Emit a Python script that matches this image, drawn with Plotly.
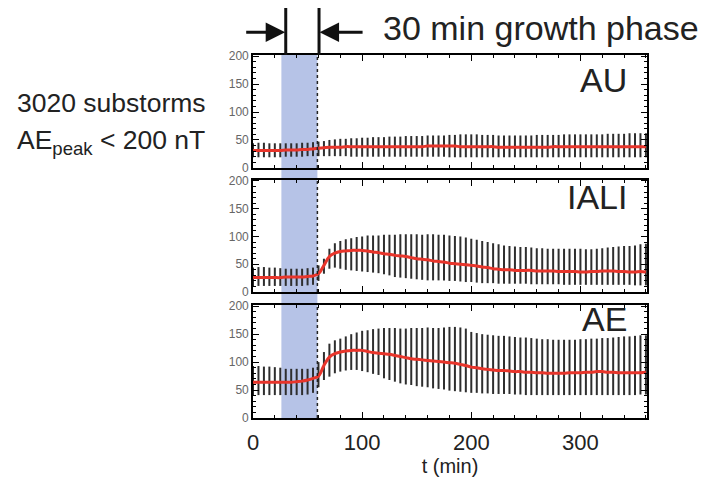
import plotly.graph_objects as go

t = list(range(0, 361, 5))

au_mean = [31,31,31,31,31,31,32,32,32,33,33,34,
           35,36,37,37,37,38,38,38,38,38,38,38,
           38,38,38,38,38,38,38,38,39,39,39,39,
           39,39,38,38,38,38,38,38,38,37,37,37,
           37,37,37,37,37,37,37,38,38,38,38,38,
           38,38,38,38,38,38,38,38,38,38,38,38,
           38]
au_hi = [44,45,45,44,44,44,44,44,44,45,45,46,
         47,48,50,51,52,52,53,53,54,54,55,55,
         55,56,56,56,57,57,57,57,58,58,58,58,
         59,59,60,60,60,60,59,59,59,58,58,58,
         58,58,58,58,59,59,59,59,59,60,60,60,
         60,60,60,60,60,61,61,61,61,62,62,62,
         62]
au_lo = [19,19,19,19,19,19,20,20,20,20,21,21,
         21,21,21,21,21,21,20,20,20,20,20,20,
         20,20,20,20,20,20,20,20,20,20,20,20,
         19,19,19,19,19,19,19,19,19,19,19,19,
         19,19,19,19,19,19,19,19,19,19,19,19,
         19,19,19,19,19,19,19,19,19,19,19,19,
         19]

al_mean = [26,26,26,26,26,26,27,27,27,27,28,29,
           33,48,64,70,73,74,75,75,75,74,72,71,
           69,68,66,65,64,62,60,59,58,56,55,54,
           52,51,50,49,48,47,45,44,42,41,40,40,
           39,39,39,39,38,38,38,38,37,37,37,37,
           36,36,37,37,38,38,38,37,37,36,36,37,
           36]
al_hi = [44,45,45,44,44,43,42,42,42,42,43,44,
         48,60,78,88,92,95,97,99,100,102,102,102,
         103,103,103,104,104,104,104,103,104,104,103,103,
         102,101,100,98,96,94,92,90,88,86,84,83,
         82,81,81,80,79,79,78,78,78,78,78,78,
         78,77,77,78,79,80,81,82,83,83,84,86,
         87]
al_lo = [11,11,11,11,11,11,11,11,11,11,12,13,
         20,33,42,44,42,40,39,38,37,36,35,34,
         32,30,27,26,25,24,23,22,21,21,21,21,
         20,20,19,18,18,17,16,16,16,15,15,15,
         15,15,15,14,14,14,14,14,14,13,13,13,
         13,13,13,13,13,13,13,13,13,13,12,12,
         12]

ae_mean = [64,64,64,64,64,64,64,64,65,66,68,71,
           75,94,109,115,118,120,121,121,121,119,117,116,
           115,114,112,110,108,106,105,104,103,102,101,100,
           99,98,96,94,91,90,88,87,86,85,85,84,
           83,83,82,82,81,81,80,80,80,80,81,81,
           81,82,82,83,83,82,82,81,81,81,81,81,
           82]
ae_hi = [93,93,92,92,91,90,88,88,88,88,88,90,
         100,118,133,139,142,146,150,153,156,157,159,160,
         161,161,161,160,160,161,161,161,162,161,161,162,
         163,163,162,160,154,152,150,149,148,147,147,146,
         145,144,144,143,142,141,141,140,140,140,140,140,
         141,141,142,142,143,143,144,145,146,146,147,148,
         148]
ae_lo = [41,41,41,41,41,41,41,41,41,41,42,45,
         55,68,74,80,83,85,86,86,84,82,79,77,
         71,68,65,62,60,59,57,56,55,53,52,51,
         49,48,47,46,45,45,44,44,43,43,43,43,
         42,42,41,41,41,41,41,41,41,41,41,41,
         41,41,41,41,41,41,41,41,41,41,41,42,
         42]

panel_labels = ["AU", "IALI", "AE"]
x_ticks = [0, 100, 200, 300]
y_ticks = [0, 50, 100, 150, 200]

series = [(au_mean, au_hi, au_lo), (al_mean, al_hi, al_lo), (ae_mean, ae_hi, ae_lo)]
domains = [[0.689, 1.0], [0.347, 0.656], [0.0, 0.311]]
label_y = [0.931, 0.609, 0.272]

fig = go.Figure()
for i, (m, hi, lo) in enumerate(series):
    xa = "x" if i == 0 else f"x{i+1}"
    ya = "y" if i == 0 else f"y{i+1}"
    fig.add_trace(go.Scatter(
        x=t, y=m, mode="markers", marker=dict(size=1, color="rgba(0,0,0,0)"),
        error_y=dict(type="data", symmetric=False,
                     array=[h - v for h, v in zip(hi, m)],
                     arrayminus=[v - l for v, l in zip(m, lo)],
                     color="#2e2e2e", thickness=2, width=0),
        xaxis=xa, yaxis=ya, showlegend=False, hoverinfo="skip"))
    fig.add_trace(go.Scatter(
        x=t, y=m, mode="lines", line=dict(color="#e8352b", width=3, shape="spline"),
        xaxis=xa, yaxis=ya, showlegend=False))

axis_common = dict(showline=True, linecolor="black", linewidth=1.6, mirror="ticks",
                   ticks="inside", tickcolor="black", tickwidth=1.4, showgrid=False,
                   zeroline=False)
layout = {}
for i in range(3):
    xk = "xaxis" if i == 0 else f"xaxis{i+1}"
    yk = "yaxis" if i == 0 else f"yaxis{i+1}"
    ya = "y" if i == 0 else f"y{i+1}"
    xa = "x" if i == 0 else f"x{i+1}"
    layout[xk] = dict(axis_common, domain=[0, 1], range=[0, 361], anchor=ya,
                      tickvals=x_ticks, ticklen=6,
                      minor=dict(ticks="inside", dtick=20, ticklen=3, tickcolor="black"),
                      showticklabels=(i == 2),
                      tickfont=dict(size=22, color="#222", family="Liberation Sans, Arial"))
    layout[yk] = dict(axis_common, domain=domains[i], range=[0, 202], anchor=xa,
                      tickvals=y_ticks, ticklen=6,
                      minor=dict(ticks="inside", dtick=10, ticklen=3, tickcolor="black"),
                      tickfont=dict(size=12, color="#666", family="Liberation Sans, Arial"))
layout["xaxis3"]["title"] = dict(text="t (min)", font=dict(size=20, color="#222"), standoff=2)
layout["xaxis3"]["ticklabelstandoff"] = 4

fig.update_layout(**layout)

shapes = [dict(type="rect", xref="x", yref="paper", x0=26, x1=59, y0=0, y1=1,
               fillcolor="#b6c3e7", line=dict(width=0), layer="below")]
for i in range(3):
    xa = "x" if i == 0 else f"x{i+1}"
    ya = "y" if i == 0 else f"y{i+1}"
    shapes.append(dict(type="line", xref=xa, yref=f"{ya} domain", x0=59, x1=59, y0=0, y1=1,
                       line=dict(color="#222", width=1.5, dash="dot")))
for xv in [30, 60.5]:
    shapes.append(dict(type="line", xref="x", yref="paper", x0=xv, x1=xv, y0=1.0, y1=1.133,
                       line=dict(color="#111", width=3)))

annotations = []
for i, lab in enumerate(panel_labels):
    annotations.append(dict(text=lab, xref="paper", yref="paper", x=0.955, y=label_y[i],
                            xanchor="right", yanchor="middle", showarrow=False,
                            font=dict(size=34, color="#222", family="Liberation Sans, Arial")))
annotations.append(dict(text="3020 substorms", xref="paper", yref="paper", x=-0.605, y=0.868,
                        xanchor="left", yanchor="middle", showarrow=False,
                        font=dict(size=26.5, color="#222", family="Liberation Sans, Arial")))
annotations.append(dict(text="AE<sub>peak</sub> &lt; 200 nT", xref="paper", yref="paper", x=-0.605, y=0.760,
                        xanchor="left", yanchor="middle", showarrow=False,
                        font=dict(size=26.5, color="#222", family="Liberation Sans, Arial")))
annotations.append(dict(text="30 min growth phase", xref="paper", yref="paper", x=0.326, y=1.075,
                        xanchor="left", yanchor="middle", showarrow=False,
                        font=dict(size=34, color="#222", family="Liberation Sans, Arial")))
annotations.append(dict(text=" ", xref="x", yref="paper", x=29.5, y=1.063, ax=-42, ay=0,
                        showarrow=True, arrowhead=2, arrowsize=1.3, arrowwidth=3, arrowcolor="#111"))
annotations.append(dict(text=" ", xref="x", yref="paper", x=61, y=1.063, ax=46, ay=0,
                        showarrow=True, arrowhead=2, arrowsize=1.3, arrowwidth=3, arrowcolor="#111"))

fig.update_layout(shapes=shapes, annotations=annotations,
                  width=707, height=474, margin=dict(l=245, r=68, t=47, b=64),
                  paper_bgcolor="white", plot_bgcolor="white",
                  font=dict(family="Liberation Sans, Arial"))

fig.write_html("out.html")
